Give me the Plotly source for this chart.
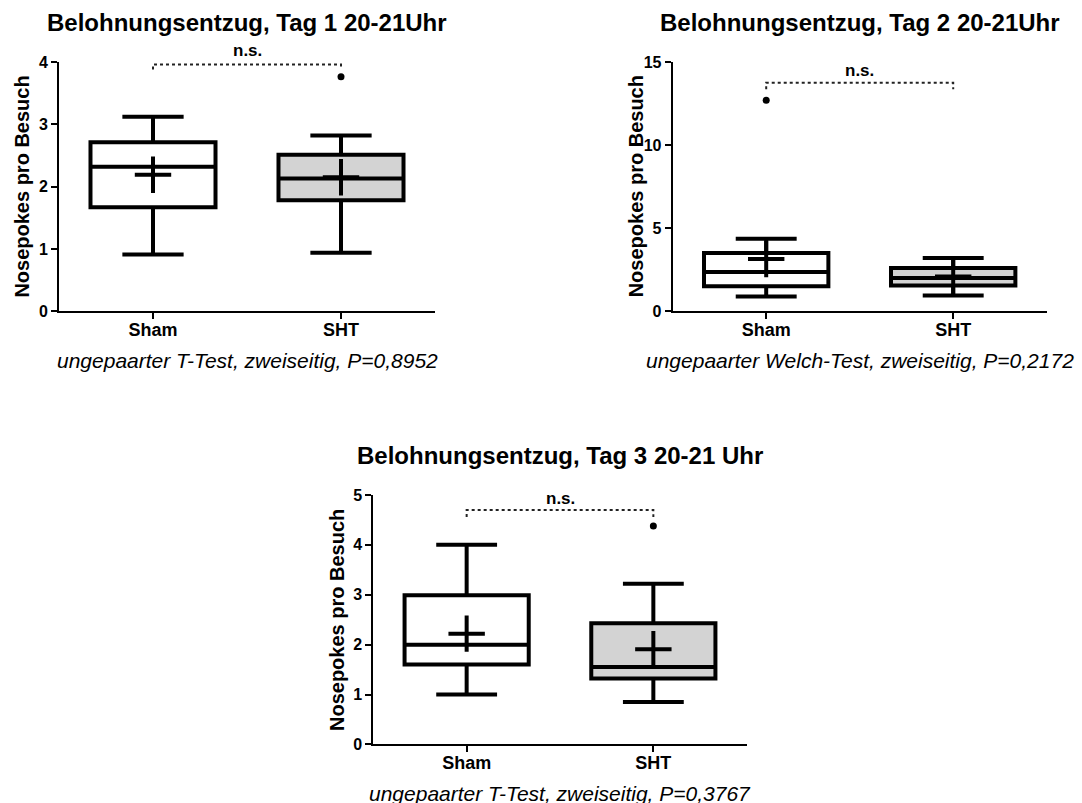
import plotly.graph_objects as go

# ---------------- data ----------------
groups = ["Sham", "SHT"]
group_pos = [0, 1]

titles = ["Belohnungsentzug, Tag 1 20-21Uhr",
          "Belohnungsentzug, Tag 2 20-21Uhr",
          "Belohnungsentzug, Tag 3 20-21 Uhr"]
subtitles = ["ungepaarter T-Test, zweiseitig, P=0,8952",
             "ungepaarter Welch-Test, zweiseitig, P=0,2172",
             "ungepaarter T-Test, zweiseitig, P=0,3767"]

day1_q1 = [1.67, 1.78]
day1_median = [2.32, 2.13]
day1_q3 = [2.71, 2.51]
day1_low = [0.91, 0.94]
day1_high = [3.12, 2.82]
day1_mean = [2.19, 2.15]
day1_outliers = [[], [3.76]]

day2_q1 = [1.51, 1.55]
day2_median = [2.37, 2.01]
day2_q3 = [3.51, 2.61]
day2_low = [0.90, 0.96]
day2_high = [4.36, 3.21]
day2_mean = [3.15, 2.09]
day2_outliers = [[12.69], []]

day3_q1 = [1.60, 1.32]
day3_median = [2.00, 1.55]
day3_q3 = [2.99, 2.43]
day3_low = [1.00, 0.85]
day3_high = [4.00, 3.22]
day3_mean = [2.22, 1.91]
day3_outliers = [[], [4.38]]

y_max = [4, 15, 5]
y_dtick = [1, 5, 1]
bracket_top = [3.96, 13.75, 4.70]
bracket_leg = [3.88, 13.36, 4.56]
label_level = [4.18, 14.5, 4.93]
sig_label = "n.s."

# ---------------- layout geometry ----------------
W, H = 1082, 840
SY, OY = 0.978, 7.2   # observed vertical mapping of the photographed page


def py(y_img):
    """target image y (px from top) -> paper fraction"""
    return 1 - ((y_img - OY) / SY) / H


areas = [(59, 435, 61, 310), (672.7, 1046.7, 61, 310), (373.3, 746.7, 493.3, 742.3)]
title_y = [22, 22, 454]
subtitle_y = [359, 359, 791.5]
fills = ["white", "#d3d3d3"]
FONT = "Liberation Sans, Arial, sans-serif"

days = [
    (day1_q1, day1_median, day1_q3, day1_low, day1_high, day1_mean, day1_outliers),
    (day2_q1, day2_median, day2_q3, day2_low, day2_high, day2_mean, day2_outliers),
    (day3_q1, day3_median, day3_q3, day3_low, day3_high, day3_mean, day3_outliers),
]

fig = go.Figure()
annotations = []

for k, (q1, med, q3, lo, hi, mean, outl) in enumerate(days):
    xa = "x" if k == 0 else f"x{k+1}"
    ya = "y" if k == 0 else f"y{k+1}"
    for g in range(2):
        fig.add_trace(go.Box(
            x=[group_pos[g]], q1=[q1[g]], median=[med[g]], q3=[q3[g]],
            lowerfence=[lo[g]], upperfence=[hi[g]],
            width=0.665, whiskerwidth=0.49,
            fillcolor=fills[g], line=dict(color="black", width=4),
            boxpoints=False, showlegend=False, xaxis=xa, yaxis=ya,
            hoverinfo="skip"))
        fig.add_trace(go.Scatter(
            x=[group_pos[g]], y=[mean[g]], mode="markers",
            marker=dict(symbol="cross-thin", size=26, color="black",
                        line=dict(color="black", width=4)),
            showlegend=False, xaxis=xa, yaxis=ya, cliponaxis=False, hoverinfo="skip"))
        if outl[g]:
            fig.add_trace(go.Scatter(
                x=[group_pos[g]] * len(outl[g]), y=outl[g], mode="markers",
                marker=dict(symbol="circle", size=7, color="black"),
                showlegend=False, xaxis=xa, yaxis=ya, cliponaxis=False, hoverinfo="skip"))
    fig.add_trace(go.Scatter(
        x=[group_pos[0], group_pos[0], group_pos[1], group_pos[1]],
        y=[bracket_leg[k], bracket_top[k], bracket_top[k], bracket_leg[k]],
        mode="lines", line=dict(color="#222222", width=2, dash="dot"),
        showlegend=False, xaxis=xa, yaxis=ya, cliponaxis=False, hoverinfo="skip"))
    annotations.append(dict(
        x=(group_pos[0] + group_pos[1]) / 2, y=label_level[k] / y_max[k],
        xref=xa, yref=f"{ya} domain",
        text=f"<b>{sig_label}</b>", showarrow=False, yanchor="middle",
        font=dict(family=FONT, size=17, color="black")))

    l, r, t, b = areas[k]
    dom_x = [l / W, r / W]
    dom_y = [py(b), py(t)]
    axis_common = dict(showline=True, linecolor="black", linewidth=2,
                       ticks="outside", tickwidth=2, tickcolor="black",
                       showgrid=False, zeroline=False)
    fig.update_layout(**{
        ("xaxis" if k == 0 else f"xaxis{k+1}"): dict(
            domain=dom_x, range=[-0.5, 1.5], tickvals=group_pos, ticktext=groups,
            anchor=ya, ticklen=6, ticklabelstandoff=-5,
            tickfont=dict(family=FONT, size=18, color="black", weight="bold"),
            **axis_common),
        ("yaxis" if k == 0 else f"yaxis{k+1}"): dict(
            domain=dom_y, range=[0, y_max[k]], dtick=y_dtick[k], tick0=0,
            anchor=xa, ticklen=6,
            tickfont=dict(family=FONT, size=16, color="black", weight="bold"),
            **axis_common),
    })
    cx = (l + r) / 2 / W
    annotations.append(dict(
        x=cx, y=py(title_y[k]), xref="paper", yref="paper",
        text=f"<b>{titles[k]}</b>", showarrow=False, yanchor="middle", xanchor="center",
        font=dict(family=FONT, size=24, color="black")))
    annotations.append(dict(
        x=cx, y=py(subtitle_y[k]), xref="paper", yref="paper",
        text=f"<i>{subtitles[k]}</i>", showarrow=False, yanchor="middle", xanchor="center",
        font=dict(family=FONT, size=21, color="black")))
    annotations.append(dict(
        x=(l - 37) / W, y=py((t + b) / 2), xref="paper", yref="paper",
        text="<b>Nosepokes pro Besuch</b>", textangle=-90, showarrow=False,
        xanchor="center", yanchor="middle",
        font=dict(family=FONT, size=20, color="black")))

fig.update_layout(
    width=W, height=H, margin=dict(l=0, r=0, t=0, b=0),
    paper_bgcolor="white", plot_bgcolor="white",
    annotations=annotations, boxmode="overlay")

fig.write_html("out.html")
